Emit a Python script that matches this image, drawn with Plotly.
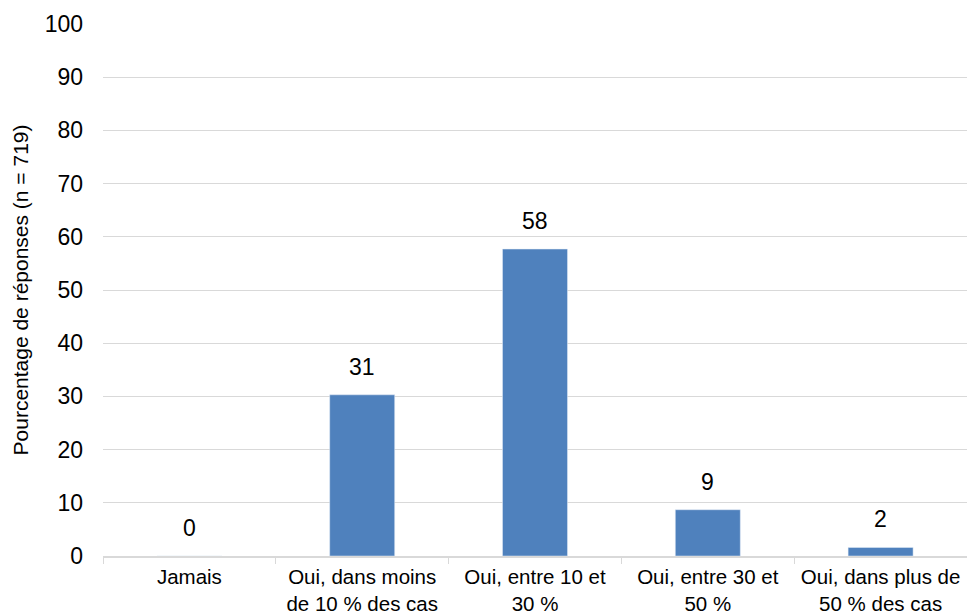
import plotly.graph_objects as go

categories = ["Jamais", "Oui, dans moins<br>de 10 % des cas", "Oui, entre 10 et<br>30 %",
              "Oui, entre 30 et<br>50 %", "Oui, dans plus de<br>50 % des cas"]
values = [0, 30.3, 57.7, 8.7, 1.6]
labels = ["0", "31", "58", "9", "2"]

fig = go.Figure()
fig.add_trace(go.Bar(x=categories, y=values, marker_color="#4f81bd", width=0.376))

for c, v, t in zip(categories, values, labels):
    fig.add_annotation(x=c, y=v, text=t, showarrow=False, yanchor="bottom", yshift=13,
                       font=dict(size=23, color="#000000"))

fig.update_layout(
    width=967, height=614,
    margin=dict(l=103, r=0, t=24, b=58),
    plot_bgcolor="white", paper_bgcolor="white",
    font=dict(family="Liberation Sans, Arial, sans-serif", color="#000000"),
    showlegend=False,
)
fig.update_xaxes(tickson="boundaries", ticks="outside", ticklen=6, tickcolor="#d9d9d9",
                 showline=True, linecolor="#d9d9d9", linewidth=1.5,
                 tickfont=dict(size=20.5), ticklabelstandoff=2)
fig.update_yaxes(range=[0, 100], dtick=10, showgrid=True, gridcolor="#d9d9d9", gridwidth=1.3,
                 zeroline=False, tickfont=dict(size=23), ticklabelstandoff=19,
                 title=dict(text="Pourcentage de réponses (n = 719)", font=dict(size=21), standoff=10))

fig.write_html("out.html")
